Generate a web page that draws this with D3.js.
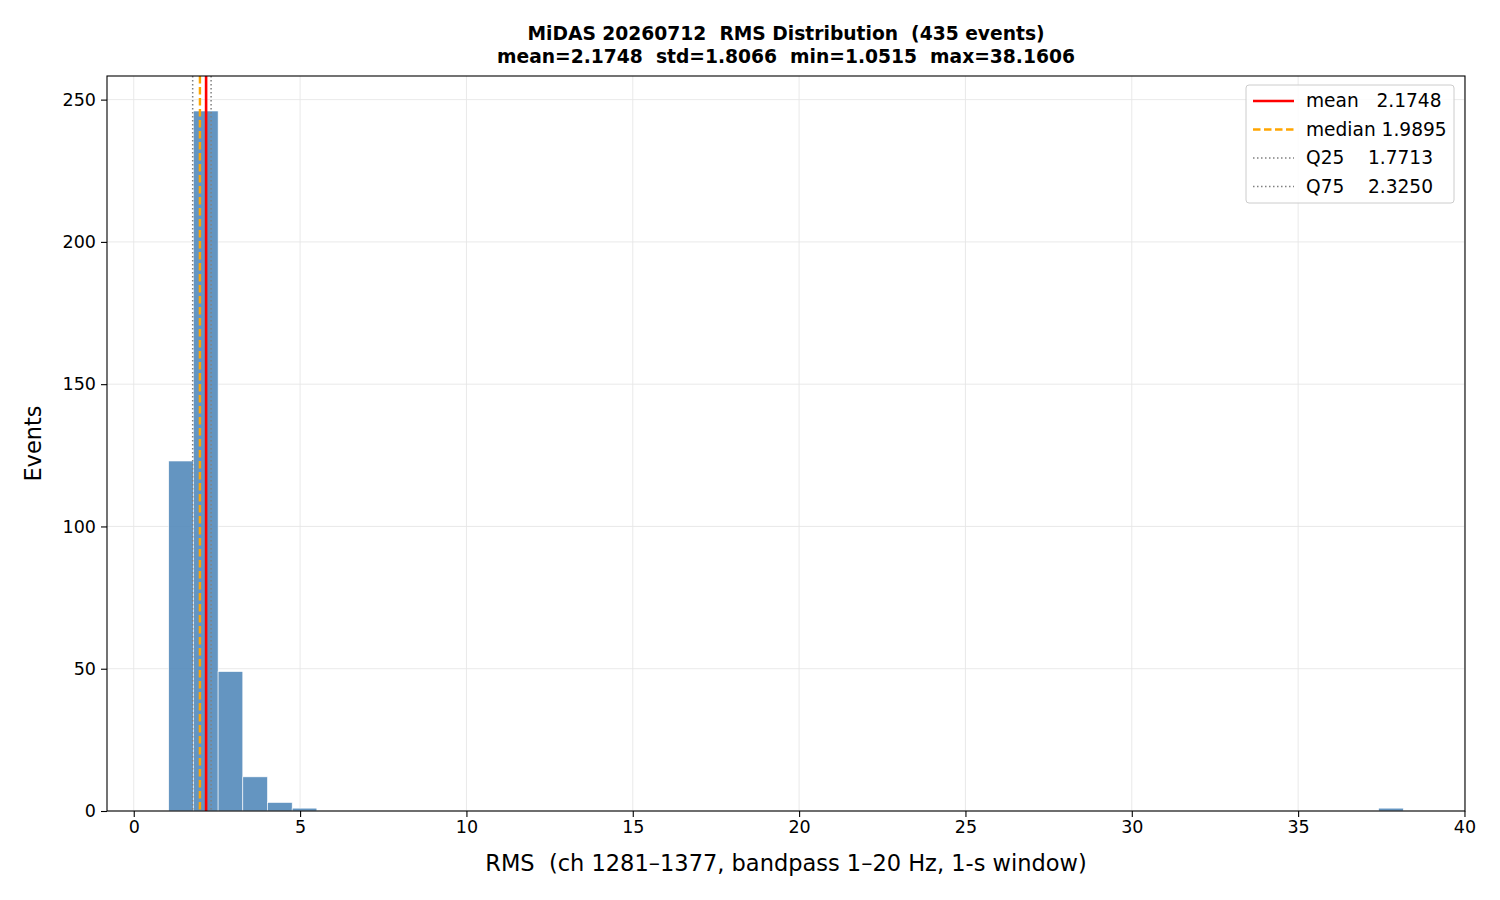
<!DOCTYPE html>
<html><head><meta charset="utf-8">
<script src="https://cdn.jsdelivr.net/npm/d3@7"></script>
<style>body{margin:0;background:#fff}text{font-family:"DejaVu Sans",sans-serif}</style>
</head><body><svg id="chart" width="1500" height="900"></svg>
<script>
// histogram: 50 equal bins between min and max
var binMin = 1.0515, binMax = 38.1606, nBins = 50;
var counts = [123, 246, 49, 12, 3, 1, 0,0,0,0, 0,0,0,0,0,0,0,0,0,0,
              0,0,0,0,0,0,0,0,0,0, 0,0,0,0,0,0,0,0,0,0,
              0,0,0,0,0,0,0,0,0, 1];
var xTicks = [0, 5, 10, 15, 20, 25, 30, 35, 40];
var yTicks = [0, 50, 100, 150, 200, 250];
var stats = [
  {label: "mean   2.1748", value: 2.1748, color: "red", dash: null, width: 2.6},
  {label: "median 1.9895", value: 1.9895, color: "orange", dash: "7.5,3.5", width: 2.4},
  {label: "Q25    1.7713", value: 1.7713, color: "gray", dash: "1.5,2.5", width: 1.5},
  {label: "Q75    2.3250", value: 2.3250, color: "gray", dash: "1.5,2.5", width: 1.5}
];

var svg = d3.select("#chart");
var L = 107, R = 1465, T = 76, B = 811;
var w = (binMax - binMin) / nBins;
var span = binMax - binMin;
var x = d3.scaleLinear().domain([binMin - 0.05 * span, binMax + 0.05 * span]).range([L, R]);
var y = d3.scaleLinear().domain([0, d3.max(counts) * 1.05]).range([B, T]);

var g = svg.append("g");
// grid
g.selectAll(".gx").data(xTicks).enter().append("line")
  .attr("x1", d => x(d)).attr("x2", d => x(d)).attr("y1", T).attr("y2", B)
  .attr("stroke", "#e6e6e6").attr("stroke-width", 0.9);
g.selectAll(".gy").data(yTicks).enter().append("line")
  .attr("x1", L).attr("x2", R).attr("y1", d => y(d)).attr("y2", d => y(d))
  .attr("stroke", "#e6e6e6").attr("stroke-width", 0.9);

// bars
g.selectAll(".bar").data(counts).enter().append("rect")
  .attr("x", (d, i) => x(binMin + i * w))
  .attr("width", (d, i) => x(binMin + (i + 1) * w) - x(binMin + i * w))
  .attr("y", d => y(d)).attr("height", d => B - y(d))
  .attr("fill", "#4f86b8").attr("fill-opacity", 0.88)
  .attr("stroke", "#fff").attr("stroke-width", d => d > 0 ? 0.6 : 0);

// stat lines
g.selectAll(".stat").data(stats).enter().append("line")
  .attr("x1", d => x(d.value)).attr("x2", d => x(d.value)).attr("y1", T).attr("y2", B)
  .attr("stroke", d => d.color).attr("stroke-width", d => d.width)
  .attr("stroke-dasharray", d => d.dash);

// axes
var xa = svg.append("g").attr("transform", "translate(0," + B + ")")
  .call(d3.axisBottom(x).tickValues(xTicks).tickSize(6).tickPadding(4));
var ya = svg.append("g").attr("transform", "translate(" + L + ",0)")
  .call(d3.axisLeft(y).tickValues(yTicks).tickSize(6).tickPadding(5));
[xa, ya].forEach(a => {
  a.select(".domain").remove();
  a.attr("font-size", null).attr("font-family", null);
  a.selectAll("text").style("font-size", "17.5px").attr("fill", "#000");
  a.selectAll("line").attr("stroke", "#000").attr("stroke-width", 1.1);
});
svg.append("rect").attr("x", L).attr("y", T).attr("width", R - L).attr("height", B - T)
  .attr("fill", "none").attr("stroke", "#000").attr("stroke-width", 1.1);

// labels
svg.append("text").attr("x", (L + R) / 2).attr("y", 871).attr("text-anchor", "middle")
  .style("font-size", "22.5px").style("white-space", "pre")
  .text("RMS  (ch 1281–1377, bandpass 1–20 Hz, 1-s window)");
svg.append("text").attr("transform", "translate(41," + (T + B) / 2 + ") rotate(-90)")
  .attr("text-anchor", "middle").style("font-size", "22.5px").text("Events");
svg.append("text").attr("x", (L + R) / 2).attr("y", 40).attr("text-anchor", "middle")
  .style("font-size", "18.7px").attr("font-weight", "bold").style("white-space", "pre")
  .text("MiDAS 20260712  RMS Distribution  (435 events)");
svg.append("text").attr("x", (L + R) / 2).attr("y", 63).attr("text-anchor", "middle")
  .style("font-size", "18.7px").attr("font-weight", "bold").style("white-space", "pre")
  .text("mean=2.1748  std=1.8066  min=1.0515  max=38.1606");

// legend
var lg = svg.append("g").attr("transform", "translate(1246,85)");
lg.append("rect").attr("width", 208).attr("height", 118).attr("rx", 3)
  .attr("fill", "#fff").attr("fill-opacity", 0.85).attr("stroke", "#ccc");
var items = lg.selectAll(".it").data(stats).enter().append("g")
  .attr("transform", (d, i) => "translate(0," + (16 + i * 28.5) + ")");
items.append("line").attr("x1", 7).attr("x2", 48)
  .attr("stroke", d => d.color).attr("stroke-width", d => d.width)
  .attr("stroke-dasharray", d => d.dash);
items.append("text").attr("x", 60).attr("y", 6).style("font-size", "18.6px")
  .style("white-space", "pre").text(d => d.label);
</script></body></html>
